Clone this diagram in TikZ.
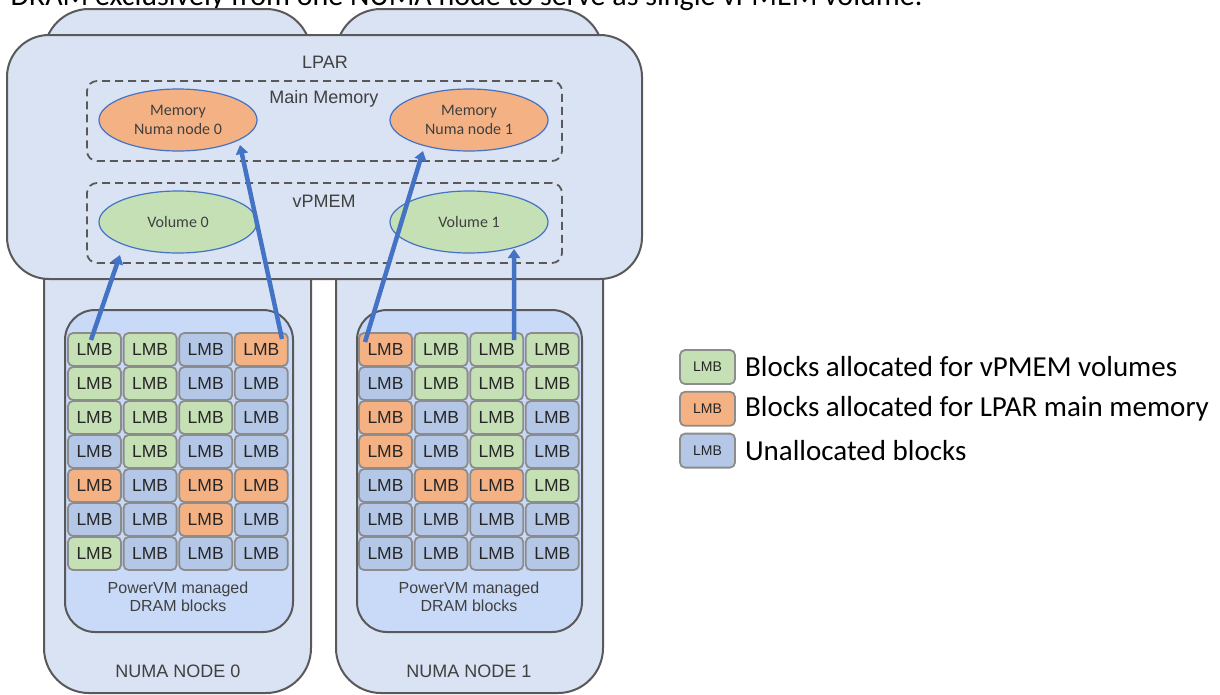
\documentclass[tikz,border=0pt]{standalone}
\usepackage{fontspec}
\setmainfont{Carlito}
\newfontfamily\arialfont{Liberation Sans}
\usetikzlibrary{%
    arrows.meta,
    positioning,
    shapes.geometric
}
\definecolor{boxfill}{HTML}{DAE3F3}
\definecolor{dramfill}{HTML}{C9DAF8}
\definecolor{lmbgreen}{HTML}{C5E0B4}
\definecolor{lmborange}{HTML}{F4B183}
\definecolor{lmbblue}{HTML}{B4C7E7}
\definecolor{edgegrey}{HTML}{595959}
\definecolor{cellgrey}{HTML}{8C8C8C}
\definecolor{arrowblue}{HTML}{4472C4}
\definecolor{labelgrey}{HTML}{404040}
\tikzset{
    numabox/.style = {draw=edgegrey, line width=2pt, fill=boxfill, rounded corners=45pt,
        minimum width=267pt, minimum height=684pt, inner sep=0pt},
    lparbox/.style = {draw=edgegrey, line width=2pt, fill=boxfill, rounded corners=42pt,
        minimum width=635pt, minimum height=244pt, inner sep=0pt},
    groupbox/.style = {draw=edgegrey, line width=1.8pt, dash pattern=on 8pt off 5pt,
        rounded corners=10pt, minimum width=475pt, minimum height=80pt, inner sep=0pt},
    dramarea/.style = {draw=edgegrey, line width=2pt, fill=dramfill, rounded corners=30pt,
        minimum height=322pt, inner sep=0pt},
    region/.style = {ellipse, draw=arrowblue, line width=1.2pt, minimum width=158pt,
        minimum height=62pt, inner sep=0pt, align=center, text=labelgrey,
        font=\fontsize{16}{19}\selectfont},
    caption/.style = {text=labelgrey, font=\arialfont\fontsize{18}{20}\selectfont},
    lmb/.style = {draw=cellgrey, line width=1.8pt, rounded corners=5pt, minimum width=53pt,
        minimum height=33pt, inner sep=0pt, text=black!85,
        font=\arialfont\fontsize{17.5}{17.5}\selectfont},
    lmbg/.style = {fill=lmbgreen},
    lmbo/.style = {fill=lmborange},
    lmbb/.style = {fill=lmbblue},
    keybox/.style = {lmb, minimum width=55pt, minimum height=34pt,
        font=\arialfont\fontsize{14}{14}\selectfont},
    keytext/.style = {font=\fontsize{29}{32}\selectfont, inner sep=0pt},
    flow/.style = {draw=arrowblue, line width=4.5pt, -{Triangle[width=12pt,length=9pt]}}
}

\begin{document}
\begin{tikzpicture}[x=1pt, y=-1pt]
    \useasboundingbox[fill=white] (0,0) rectangle (1220,694);

    \node[anchor=base west, font=\fontsize{30}{36}\selectfont] (heading) at (7,5)
        {DRAM exclusively from one NUMA node to serve as single vPMEM volume.};

    % NUMA nodes behind the LPAR
    \node[numabox] (numa0) at (177.5,351) {};
    \node[numabox] (numa1) at (469.5,351) {};
    \node[caption] (numa0-lbl) at (178,671) {NUMA NODE 0};
    \node[caption] (numa1-lbl) at (469,671) {NUMA NODE 1};

    % LPAR
    \node[lparbox] (lpar) at (324.5,157) {};
    \node[caption] (lpar-lbl) at (325,62) {LPAR};
    \node[groupbox] (mainmem) at (324.5,121) {};
    \node[caption] (mainmem-lbl) at (324,99) {Main Memory};
    \node[groupbox] (vpmem) at (324.5,223) {};
    \node[caption] (vpmem-lbl) at (324,201) {vPMEM};
    \node[region, fill=lmborange] (mem0) at (178,120) {Memory\\Numa node 0};
    \node[region, fill=lmborange] (mem1) at (469,120) {Memory\\Numa node 1};
    \node[region, fill=lmbgreen] (vol0) at (178,222) {Volume 0};
    \node[region, fill=lmbgreen] (vol1) at (469,222) {Volume 1};

    % DRAM blocks
    \node[dramarea, minimum width=228pt] (dram0) at (179,471) {};
    \node[dramarea, minimum width=225pt] (dram1) at (469.5,471) {};
    \foreach \row [count=\r from 0] in {{g,g,b,o},{g,g,b,b},{g,g,g,b},{b,g,b,b},
                                        {o,b,o,o},{b,b,o,b},{g,b,b,b}}
        \foreach \k [count=\c from 0] in \row
            \node[lmb, lmb\k] (g0-\r-\c) at (94.5+55.6*\c, 349.5+34*\r) {LMB};
    \foreach \row [count=\r from 0] in {{o,g,g,g},{b,g,g,g},{o,b,g,b},{o,b,g,b},
                                        {b,o,o,g},{b,b,b,b},{b,b,b,b}}
        \foreach \k [count=\c from 0] in \row
            \node[lmb, lmb\k] (g1-\r-\c) at (385.5+55.6*\c, 349.5+34*\r) {LMB};
    \node[caption, align=center, font=\arialfont\fontsize{16}{18}\selectfont]
        (dram0-lbl) at (178,597) {PowerVM managed\\DRAM blocks};
    \node[caption, align=center, font=\arialfont\fontsize{16}{18}\selectfont]
        (dram1-lbl) at (469,597) {PowerVM managed\\DRAM blocks};

    % allocations
    \draw[flow] ([xshift=-3.5pt,yshift=9.5pt]g0-0-0.center) -- ([xshift=-58pt,yshift=-33pt]vol0.center);
    \draw[flow] ([xshift=20.7pt,yshift=10.5pt]g0-0-3.center) -- ([xshift=62pt,yshift=-25pt]mem0.center);
    \draw[flow] ([xshift=-20.5pt,yshift=7.5pt]g1-0-0.center) -- ([xshift=-46pt,yshift=-31pt]mem1.center);
    \draw[flow] ([xshift=17.4pt,yshift=9.5pt]g1-0-2.center) -- ([xshift=45pt,yshift=-27pt]vol1.center);

    % legend
    \node[keybox, lmbg] (key-g) at (707.5,367) {LMB};
    \node[keybox, lmbo] (key-o) [below=6pt of key-g] {LMB};
    \node[keybox, lmbb] (key-b) [below=6pt of key-o] {LMB};
    \node[keytext] (key-g-txt) [right=9pt of key-g] {Blocks allocated for vPMEM volumes};
    \node[keytext] (key-o-txt) [right=9pt of key-o] {Blocks allocated for LPAR main memory};
    \node[keytext] (key-b-txt) [right=9pt of key-b] {Unallocated blocks};
\end{tikzpicture}
\end{document}
